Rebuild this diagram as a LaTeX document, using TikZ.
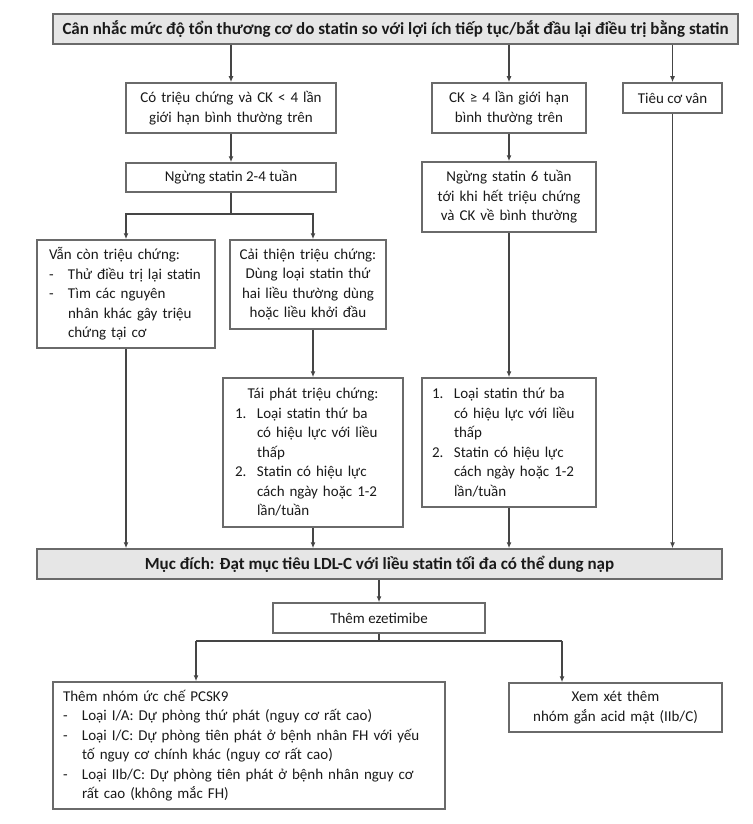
\documentclass[tikz,border=0pt]{standalone}
\usepackage{fontspec}
\setmainfont{Carlito}
\usetikzlibrary{arrows.meta}
\definecolor{bord}{HTML}{6A6A6A}
\definecolor{lnc}{HTML}{454545}
\definecolor{txt}{HTML}{1A1A1A}
\definecolor{grayfill}{HTML}{E6E6E6}
\newcommand\fsz{\fontsize{15}{19.5}\selectfont}
\newcommand\fszb{\fontsize{17}{20}\selectfont\bfseries}
\newcommand\mk[1]{\makebox[22pt][l]{#1}}
\newcommand\mkd[1]{\makebox[19pt][l]{#1}}
\newcommand\mke[1]{\makebox[19pt][l]{#1}}
\begin{document}
\begin{tikzpicture}[x=1pt,y=-1pt,
  box/.style={draw=bord,line width=1.5pt,fill=white,inner sep=0pt,font=\fsz,text=txt},
  ln/.style={draw=lnc,line width=1.3pt},
  arr/.style={ln,-{Latex[length=6pt,width=5pt]}}]
\useasboundingbox (0,0) rectangle (752,824);
\fill[white] (0,0) rectangle (752,824);

% row 1
\node[box,fill=grayfill,font=\fszb,minimum width=685pt,minimum height=30pt] (top) at (395.5,29)
  {Cân nhắc mức độ tổn thương cơ do statin so với lợi ích tiếp tục/bắt đầu lại điều trị bằng statin};
\node[box,minimum width=210pt,minimum height=50pt,text width=206pt,align=center] (box1) at (231,108)
  {Có triệu chứng và CK < 4 lần\\giới hạn bình thường trên};
\node[box,minimum width=154pt,minimum height=50pt,text width=150pt,align=center] (ck4) at (509,108)
  {CK ≥ 4 lần giới hạn\\bình thường trên};
\node[box,minimum width=99pt,minimum height=30pt] (tcv) at (672.5,98)
  {Tiêu cơ vân};

% row 2
\node[box,minimum width=210pt,minimum height=29pt] (stop24) at (231,177.5)
  {Ngừng statin 2-4 tuần};
\node[box,minimum width=174pt,minimum height=70pt,text width=170pt,align=center] (stop6) at (509,197)
  {Ngừng statin 6 tuần\\tới khi hết triệu chứng\\và CK về bình thường};

% row 3
\node[box,minimum width=178pt,minimum height=108pt,text width=154pt,align=left] (vancon) at (126,294)
  {Vẫn còn triệu chứng:\\
   \mkd{-}Thử điều trị lại statin\\
   \mkd{-}Tìm các nguyên\\
   \hspace*{19pt}nhân khác gây triệu\\
   \hspace*{19pt}chứng tại cơ};
\node[box,minimum width=156pt,minimum height=89pt,text width=152pt,align=center] (caithien) at (308,284.5)
  {Cải thiện triệu chứng:\\Dùng loại statin thứ\\hai liều thường dùng\\hoặc liều khởi đầu};

% row 4
\node[box,minimum width=180pt,minimum height=149pt,text width=156pt,align=left] (taiphat) at (313,452.5)
  {\makebox[156pt][c]{Tái phát triệu chứng:}\\
   \mk{1.}Loại statin thứ ba\\
   \hspace*{22pt}có hiệu lực với liều\\
   \hspace*{22pt}thấp\\
   \mk{2.}Statin có hiệu lực\\
   \hspace*{22pt}cách ngày hoặc 1-2\\
   \hspace*{22pt}lần/tuần};
\node[box,minimum width=174pt,minimum height=129pt,text width=154pt,align=left] (rlist) at (509,442.5)
  {\mk{1.}Loại statin thứ ba\\
   \hspace*{22pt}có hiệu lực với liều\\
   \hspace*{22pt}thấp\\
   \mk{2.}Statin có hiệu lực\\
   \hspace*{22pt}cách ngày hoặc 1-2\\
   \hspace*{22pt}lần/tuần};

% goal
\node[box,fill=grayfill,font=\fszb,minimum width=685pt,minimum height=30pt] (goal) at (379.5,564)
  {Mục đích: Đạt mục tiêu LDL-C với liều statin tối đa có thể dung nạp};
\node[box,minimum width=212pt,minimum height=30pt] (eze) at (379,618)
  {Thêm ezetimibe};

% bottom
\node[box,minimum width=392pt,minimum height=127pt,text width=372pt,align=left] (pcsk9) at (249,745.5)
  {Thêm nhóm ức chế PCSK9\\
   \mke{-}Loại I/A: Dự phòng thứ phát (nguy cơ rất cao)\\
   \mke{-}Loại I/C: Dự phòng tiên phát ở bệnh nhân FH với yếu\\
   \hspace*{19pt}tố nguy cơ chính khác (nguy cơ rất cao)\\
   \mke{-}Loại IIb/C: Dự phòng tiên phát ở bệnh nhân nguy cơ\\
   \hspace*{19pt}rất cao (không mắc FH)};
\node[box,minimum width=213pt,minimum height=49pt,text width=209pt,align=center] (xem) at (615.5,707.5)
  {Xem xét thêm\\nhóm gắn acid mật (IIb/C)};

% connectors
\draw[arr] (top.south -| box1.north) -- (box1.north);
\draw[arr] (top.south -| ck4.north) -- (ck4.north);
\draw[arr] (top.south -| tcv.north) -- (tcv.north);
\draw[arr] (box1) -- (stop24);
\coordinate (j1) at (231,214);
\draw[ln] (stop24.south) -- (j1);
\draw[arr] (j1) -| (vancon.north);
\draw[arr] (j1) -| ([xshift=5pt]caithien.north);
\draw[arr] ([xshift=5pt]caithien.south) -- (taiphat.north);
\draw[arr] (vancon.south) -- (vancon.south |- goal.north);
\draw[arr] (taiphat.south) -- (taiphat.south |- goal.north);
\draw[arr] (ck4) -- (stop6);
\draw[arr] (stop6) -- (rlist);
\draw[arr] (rlist.south) -- (rlist.south |- goal.north);
\draw[arr] (tcv.south) -- (tcv.south |- goal.north);
\draw[arr] (goal.south -| eze.north) -- (eze.north);
\coordinate (j2) at (379,641);
\coordinate (jl) at (196,641);
\coordinate (jr) at (562,641);
\draw[ln] (eze.south) -- (j2);
\draw[ln] (jl) -- (jr);
\draw[arr] (jl) -- (jl |- pcsk9.north);
\draw[arr] (jr) -- (jr |- xem.north);
\end{tikzpicture}
\end{document}
